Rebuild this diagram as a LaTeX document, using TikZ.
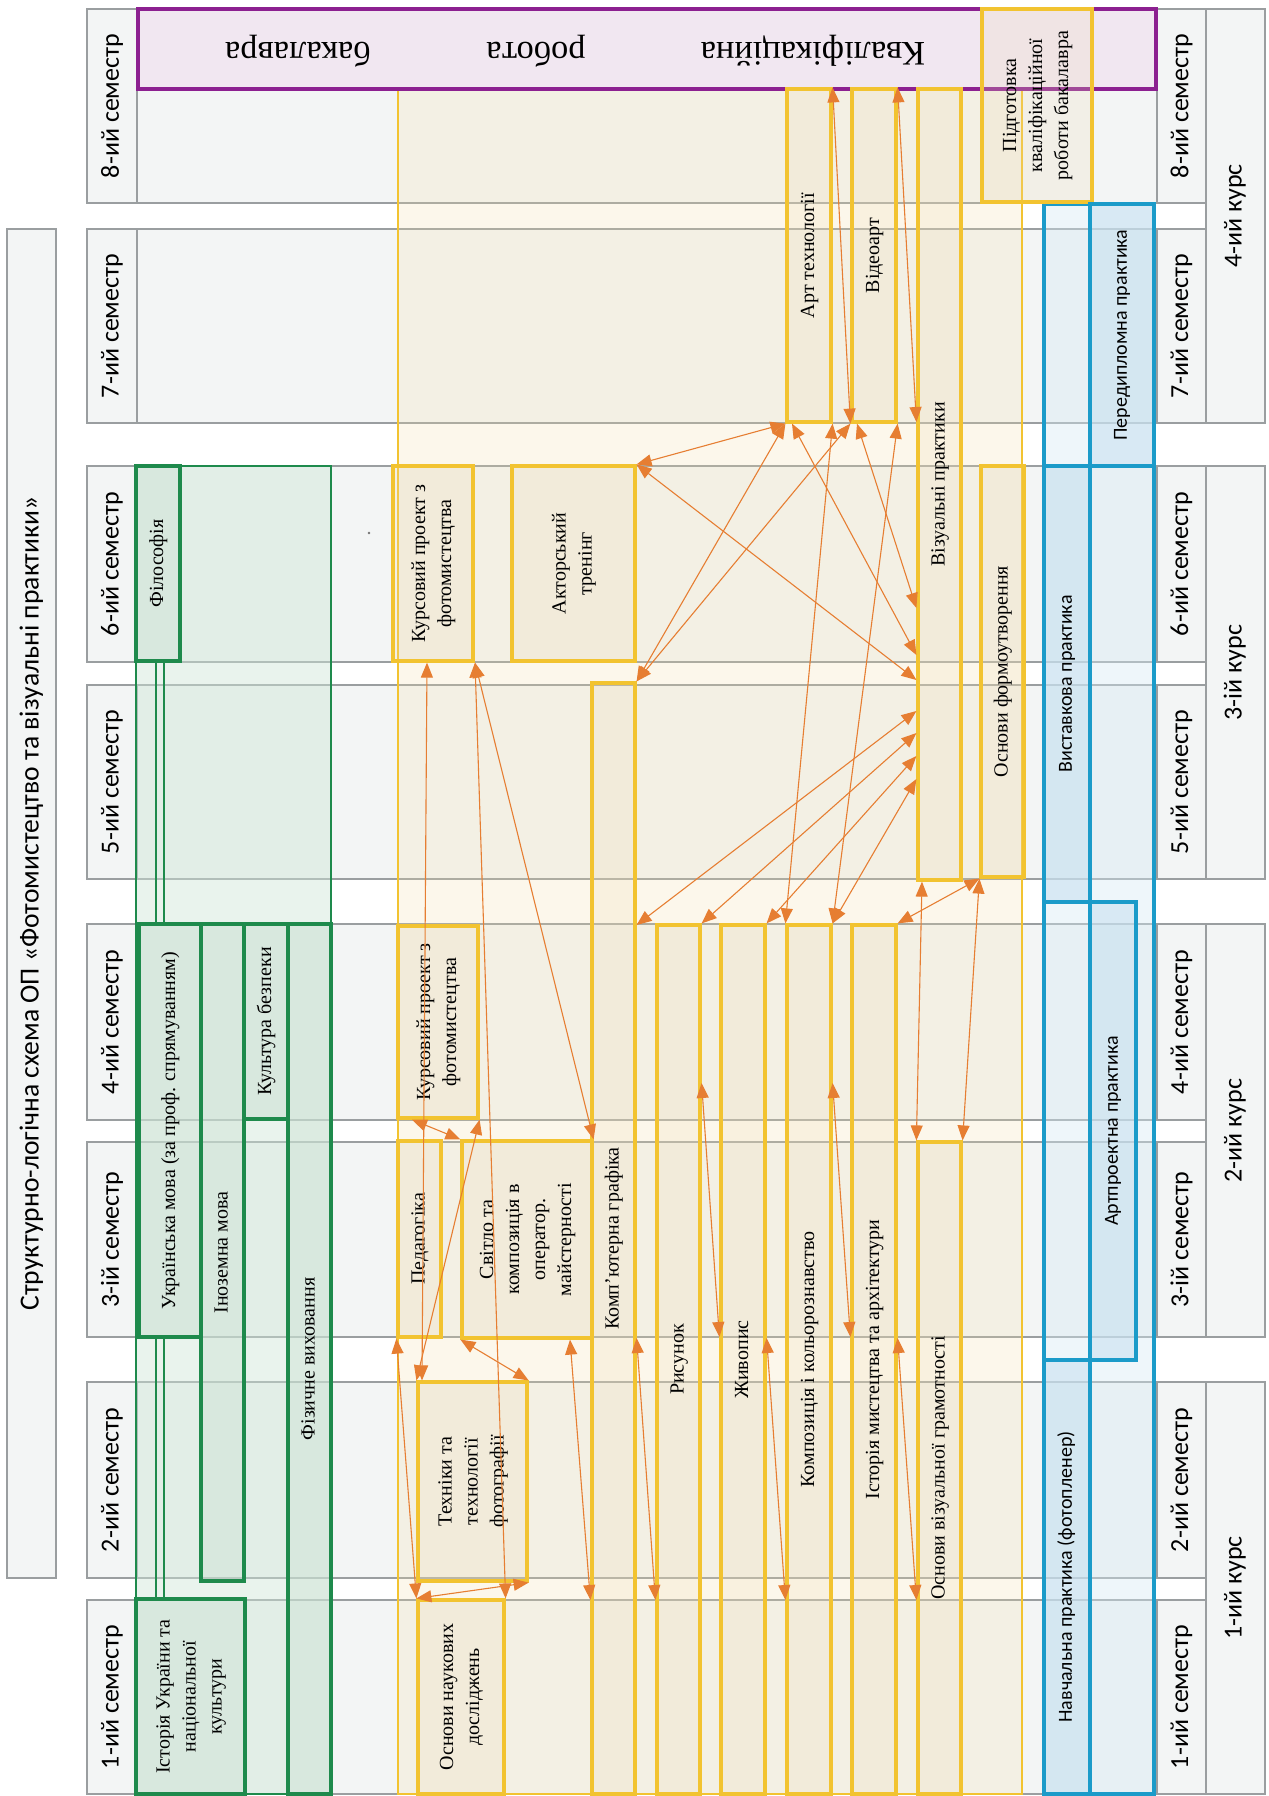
\documentclass[tikz,border=0pt]{standalone}
\usepackage{fontspec}
\setmainfont{Liberation Serif}
\newfontfamily\labfont{Carlito}
\usetikzlibrary{fit,arrows.meta}
\definecolor{bandfill}{HTML}{F3F5F5}
\definecolor{bandline}{HTML}{9A9EA0}
\definecolor{grn}{HTML}{1E8A4C}
\definecolor{grnbig}{HTML}{CFE6D8}
\definecolor{grnbox}{HTML}{C9E0D1}
\definecolor{ylw}{HTML}{F2C330}
\definecolor{ylwbig}{HTML}{F3DFA8}
\definecolor{ylwbox}{HTML}{F0DDB8}
\definecolor{blu}{HTML}{1B9BC9}
\definecolor{blubig}{HTML}{D5E9F4}
\definecolor{blubox}{HTML}{C6E0F0}
\definecolor{prp}{HTML}{8C2090}
\definecolor{prpfill}{HTML}{F1E7F1}
\definecolor{arrc}{HTML}{E67E32}
% box style, text style, corner, corner, name, text
\newcommand\tbox[6]{%
  \node[#1, fit={(#3) (#4)}] (#5) {};
  \node[#2] (#5t) at (#5.center) {\rotatebox{90}{\begin{tabular}{@{}c@{}}#6\end{tabular}}};}
\tikzset{
  band/.style={draw=bandline, line width=0.6pt, fill=bandfill, inner sep=0pt},
  cell/.style={draw=bandline, line width=0.6pt, fill=bandfill, inner sep=0pt},
  celltxt/.style={inner sep=0pt, font=\labfont\fontsize{13}{15}\selectfont},
  titletxt/.style={inner sep=0pt, font=\labfont\fontsize{13.8}{16}\selectfont},
  sertxt/.style={inner sep=0pt, font=\fontsize{10}{13}\selectfont},
  practxt/.style={inner sep=0pt, font=\labfont\fontsize{10}{12}\selectfont},
  gbig/.style={draw=grn, line width=0.6pt, fill=grnbig, fill opacity=0.45, inner sep=0pt},
  gbox/.style={draw=grn, line width=1.6pt, fill=grnbox, fill opacity=0.4, inner sep=0pt},
  ybig/.style={draw=ylw, line width=0.6pt, fill=ylwbig, fill opacity=0.22, inner sep=0pt},
  ybox/.style={draw=ylw, line width=1.6pt, fill=ylwbox, fill opacity=0.22, inner sep=0pt},
  bbig/.style={draw=blu, line width=1.6pt, fill=blubig, fill opacity=0.4, inner sep=0pt},
  bbox/.style={draw=blu, line width=1.6pt, fill=blubox, fill opacity=0.55, inner sep=0pt},
  pbox/.style={draw=prp, line width=1.6pt, fill=prpfill, inner sep=0pt},
  kvtext/.style={font=\fontsize{17.2}{19}\selectfont, rotate=180, inner sep=0pt},
  gline/.style={draw=grn, line width=0.6pt},
  link/.style={draw=arrc, line width=0.55pt, arrows={Triangle[length=7.5pt,width=6pt]-Triangle[length=7.5pt,width=6pt]}},
}
\begin{document}
\begin{tikzpicture}[x=0.5pt,y=-0.5pt]
\useasboundingbox (0,0) rectangle (1269,1796);
\fill[white] (0,0) rectangle (1269,1796);
% title
\node[cell, fit={(7,229) (56,1578)}] (title) {};
\node[titletxt] (titlet) at (title.center) {\rotatebox{90}{Структурно-логічна схема ОП «Фотомистецтво та візуальні практики»}};
% semester bands
\foreach \n/\s/\a/\b in {8/ий/9/203, 7/ий/229/423, 6/ий/466/662, 5/ий/685/879, 4/ий/924/1120, 3/ій/1142/1337, 2/ий/1382/1578, 1/ий/1600/1794} {
  \node[band, fit={(87,\a) (1157,\b)}] (band\n) {};
  \node[cell, fit={(87,\a) (137,\b)}] (ls\n) {};
  \node[celltxt] (lst\n) at (ls\n.center) {\rotatebox{90}{\n-\s{} семестр}};
  \node[cell, fit={(1157,\a) (1206,\b)}] (rs\n) {};
  \node[celltxt] (rst\n) at (rs\n.center) {\rotatebox{90}{\n-\s{} семестр}};
}
% course cells
\tbox{cell}{celltxt}{1206,9}{1265,423}{c4}{4-ий курс}
\tbox{cell}{celltxt}{1206,466}{1265,879}{c3}{3-ій курс}
\tbox{cell}{celltxt}{1206,924}{1265,1337}{c2}{2-ий курс}
\tbox{cell}{celltxt}{1206,1382}{1265,1794}{c1}{1-ий курс}
% large frames
\node[gbig, fit={(136,466) (331,1794)}] (gframe) {};
\node[ybig, fit={(398,89) (1022,1794)}] (yframe) {};
\node[bbig, fit={(1044,204) (1090,1794)}] (bleft) {};
\node[bbig, fit={(1090,204) (1154,1794)}] (bright) {};
% qualification work
\node[pbox, fit={(138,9) (1156,89)}] (kval) {};
\node[kvtext] (kw1) at (813,51) {Кваліфікаційна};
\node[kvtext] (kw2) at (536,51) {робота};
\node[kvtext] (kw3) at (298,51) {бакалавра};
% green subjects
\tbox{gbox}{sertxt}{136,466}{180,661}{fil}{Філософія}
\tbox{gbox}{sertxt}{139,924}{201,1337}{ukr}{Українська мова (за проф. спрямуванням)}
\tbox{gbox}{sertxt}{201,924}{244,1581}{ino}{Іноземна мова}
\tbox{gbox}{sertxt}{244,924}{288,1119}{kult}{Культура безпеки}
\tbox{gbox}{sertxt}{288,924}{331,1794}{fiz}{Фізичне виховання}
\tbox{gbox}{sertxt}{136,1599}{245,1794}{ist}{Історія України та\\національної\\культури}
% yellow subjects
\tbox{ybox}{sertxt}{393,466}{473,661}{kp6}{Курсовий проект з\\фотомистецтва}
\tbox{ybox}{sertxt}{512,466}{635,661}{akt}{Акторський\\тренінг}
\tbox{ybox}{sertxt}{398,926}{478,1118}{kp4}{Курсовий проект з\\фотомистецтва}
\tbox{ybox}{sertxt}{398,1141}{441,1337}{ped}{Педагогіка}
\tbox{ybox}{sertxt}{462,1141}{592,1338}{svit}{Світло та\\композиція в\\оператор.\\майстерності}
\tbox{ybox}{sertxt}{592,683}{635,1794}{komp}{Комп'ютерна графіка}
\tbox{ybox}{sertxt}{418,1382}{527,1581}{tekh}{Техніки та\\технології\\фотографії}
\tbox{ybox}{sertxt}{418,1600}{504,1794}{osnn}{Основи наукових\\досліджень}
\tbox{ybox}{sertxt}{657,925}{700,1794}{rys}{Рисунок}
\tbox{ybox}{sertxt}{721,925}{765,1794}{zhyv}{Живопис}
\tbox{ybox}{sertxt}{787,925}{831,1794}{kompoz}{Композиція і кольорознавство}
\tbox{ybox}{sertxt}{852,925}{896,1794}{istm}{Історія мистецтва та архітектури}
\tbox{ybox}{sertxt}{918,1142}{961,1794}{osvg}{Основи візуальної грамотності}
\tbox{ybox}{sertxt}{787,89}{831,422}{art}{Арт технології}
\tbox{ybox}{sertxt}{852,89}{896,422}{video}{Відеоарт}
\tbox{ybox}{sertxt}{918,89}{961,880}{vizp}{Візуальні практики}
\tbox{ybox}{sertxt}{981,466}{1024,877}{osf}{Основи формоутворення}
\tbox{ybox}{sertxt}{982,9}{1092,202}{pidg}{Підготовка\\кваліфікаційної\\роботи бакалавра}
% blue practices
\tbox{bbox}{practxt}{1090,204}{1154,466}{perd}{Передипломна практика}
\tbox{bbox}{practxt}{1044,466}{1090,902}{vyst}{Виставкова практика}
\node[draw=blu, line width=1.6pt, inner sep=0pt, fit={(1044,902) (1136,1360)}] (artframe) {};
\tbox{bbox}{practxt}{1090,902}{1136,1360}{artp}{Артпроектна практика}
\tbox{bbox}{practxt}{1044,1360}{1090,1794}{navch}{Навчальна практика (фотопленер)}
% stray dot
\fill[black!55] (369,533) circle (0.7pt);
% green connectors
\draw[gline] (fil.south -| 156,0) -- (ukr.north -| 156,0);
\draw[gline] (fil.south -| 164,0) -- (ukr.north -| 164,0);
\draw[gline] (ukr.south -| 156,0) -- (ist.north -| 156,0);
\draw[gline] (ukr.south -| 164,0) -- (ist.north -| 164,0);
% links
\draw[link] (kp6.south -| 427,0) -- (tekh.north -| 422,0);
\draw[link] (kp6.south -| 475,0) -- (svit.north east);
\draw[link] (kp6.south -| 475,0) -- (osnn.north east);
\draw[link] (kp4.south -| 412,0) -- (svit.north west);
\draw[link] (kp4.south east) -- (tekh.north west);
\draw[link] (ped.south west) -- (osnn.north west);
\draw[link] (svit.south west) -- (tekh.north east);
\draw[link] (svit.south -| 570,0) -- (komp.west |- 0,1600);
\draw[link] (komp.east |- 0,1338) -- (rys.west |- 0,1600);
\draw[link] (tekh.south east) -- (osnn.north west);
\draw[link] (rys.east |- 0,1083) -- (zhyv.west |- 0,1337);
\draw[link] (zhyv.east |- 0,1338) -- (kompoz.west |- 0,1600);
\draw[link] (kompoz.east |- 0,1083) -- (istm.west |- 0,1337);
\draw[link] (istm.east |- 0,1338) -- (osvg.west |- 0,1600);
\draw[link] (vizp.south -| 922,0) -- (osvg.north west);
\draw[link] (osf.south west) -- (osvg.north east);
\draw[link] (osf.south west) -- (istm.north east);
\draw[link] (vizp.west |- 0,711) -- (komp.east |- 0,925);
\draw[link] (vizp.west |- 0,733) -- (rys.north east);
\draw[link] (vizp.west |- 0,756) -- (zhyv.north east);
\draw[link] (vizp.west |- 0,779) -- (kompoz.north east);
\draw[link] (art.south east) -- (kompoz.north west);
\draw[link] (video.south east) -- (kompoz.north east);
\draw[link] (akt.north east) -- (art.south west);
\draw[link] (akt.north east) -- (vizp.west |- 0,680);
\draw[link] (art.south west) -- (komp.north east);
\draw[link] (video.south west) -- (komp.north east);
\draw[link] (art.south -| 792,0) -- (vizp.west |- 0,655);
\draw[link] (video.south -| 857,0) -- (vizp.west |- 0,608);
\draw[link] (art.north east) -- (video.south west);
\draw[link] (video.north east) -- (vizp.west |- 0,422);
\end{tikzpicture}
\end{document}
